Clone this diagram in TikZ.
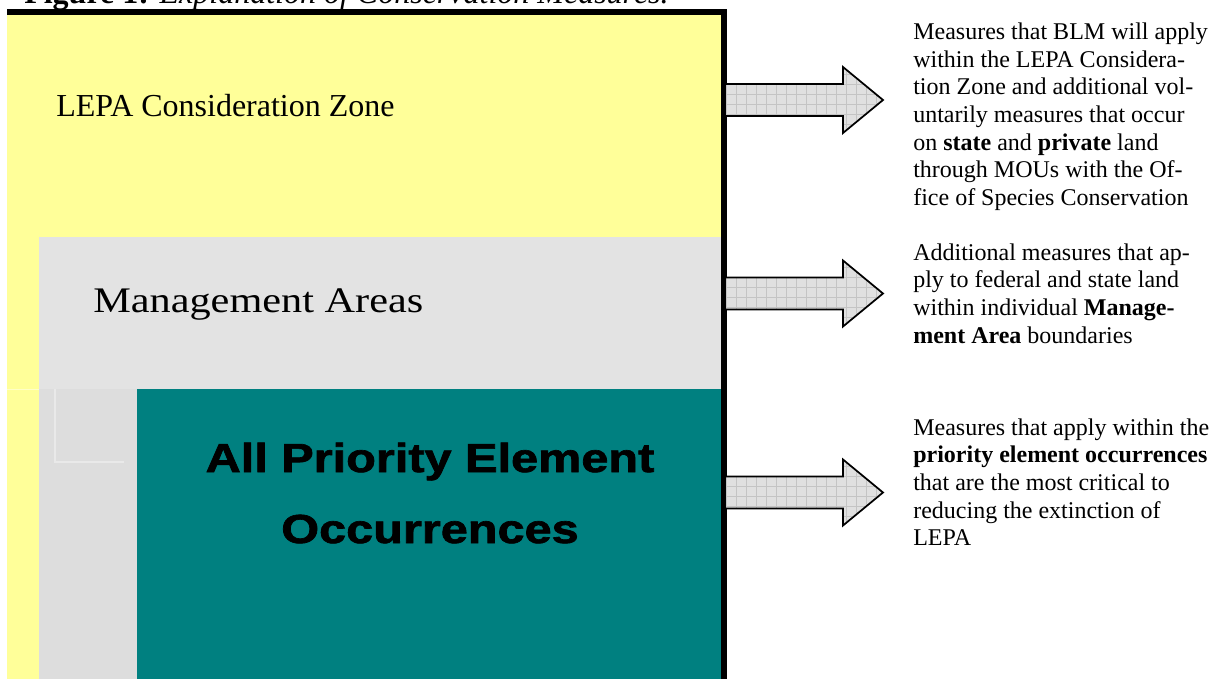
\documentclass[tikz,border=0pt]{standalone}
\usepackage{fontspec}
\setmainfont{Liberation Serif}
\newfontfamily\heavyfont[FakeBold=1.6]{Liberation Sans}
\usepackage{graphicx}
\definecolor{lepayellow}{HTML}{FFFF99}
\definecolor{mgray}{HTML}{E3E3E3}
\definecolor{lgray}{HTML}{DDDDDD}
\definecolor{tealbox}{HTML}{008080}
\definecolor{arrowfill}{HTML}{E0E0E0}
\definecolor{arrowgrid}{HTML}{C4C4C4}
\tikzset{
  sqline/.style={draw=white!35!lgray, line width=0.8pt},
  bigarrow/.style={draw=black, line width=1.3pt, line join=miter},
  sidetext/.style={anchor=base west, inner sep=0pt, font=\fontsize{18}{20.8}\selectfont},
  peotext/.style={anchor=base, inner sep=0pt, font=\heavyfont\bfseries\fontsize{30.4}{36}\selectfont},
}
\newcommand\blockarrow[2]{%
  \begin{scope}
    \clip (726,#1-16) -- (843,#1-16) -- (843,#1-33) -- (883,#1) -- (843,#1+33) -- (843,#1+16) -- (726,#1+16) -- cycle;
    \fill[arrowfill] (720,#1-40) rectangle (890,#1+40);
    \foreach \gx in {726,736,...,886} \draw[arrowgrid, line width=0.35pt] (\gx,#1-40) -- (\gx,#1+40);
    \foreach \gy in {-36,-26,...,40} \draw[arrowgrid, line width=0.35pt] (720,#1+\gy) -- (890,#1+\gy);
  \end{scope}
  \draw[bigarrow] (726,#1-16) -- (843,#1-16) -- (843,#1-33) -- (883,#1) -- (843,#1+33) -- (843,#1+16) -- (726,#1+16);
  \coordinate (#2) at (883,#1);
}
\begin{document}
\begin{tikzpicture}[x=0.75pt,y=-0.75pt]
\useasboundingbox (0,0) rectangle (1217,679);
% caption (cut off at top, as in the reference)
\node[anchor=base west, inner sep=0pt, font=\fontsize{24}{28}\selectfont] (caption) at (24,3) {\textbf{Figure 1:} \textit{Explanation of Conservation Measures.}};
% regions
\fill[lepayellow] (7,14) rectangle (724,679);
\fill[mgray] (39,237) rectangle (724,389);
\fill[lgray] (39,389) rectangle (137,679);
\fill[tealbox] (137,389) rectangle (724,679);
\draw[white!45!lepayellow, line width=0.7pt] (7,389) -- (39,389);
\draw[sqline] (55,389) -- (55,462) -- (124,462);
% frame
\fill[black] (7,9) rectangle (727,15);
\fill[black] (721,9) rectangle (727,679);
% region labels
\node[anchor=base west, inner sep=0pt, font=\fontsize{24}{28}\selectfont] (zone) at (56,116.5) {LEPA Consideration Zone};
\node[anchor=base west, inner sep=0pt, font=\fontsize{27}{32}\selectfont] (mgmt) at (93,312) {\scalebox{1.175}[1]{Management Areas}};
\node[peotext] (peo1) at (430,472) {\scalebox{1.2}[1]{All Priority Element}};
\node[peotext] (peo2) at (430,543) {\scalebox{1.2}[1]{Occurrences}};
% arrows
\blockarrow{100}{a1}
\blockarrow{293.5}{a2}
\blockarrow{492.5}{a3}
% side texts
\node[sidetext] (t1) at (913,39.3) {\vtop{\baselineskip=20.8pt
  \hbox{Measures that BLM will apply}
  \hbox{within the LEPA Considera-}
  \hbox{tion Zone and additional vol-}
  \hbox{untarily measures that occur}
  \hbox{on \textbf{state} and \textbf{private} land}
  \hbox{through MOUs with the Of-}
  \hbox{fice of Species Conservation}}};
\node[sidetext] (t2) at (913,260) {\vtop{\baselineskip=20.8pt
  \hbox{Additional measures that ap-}
  \hbox{ply to federal and state land}
  \hbox{within individual \textbf{Manage-}}
  \hbox{\textbf{ment Area} boundaries}}};
\node[sidetext] (t3) at (913,435) {\vtop{\baselineskip=20.8pt
  \hbox{Measures that apply within the}
  \hbox{\textbf{priority element occurrences}}
  \hbox{that are the most critical to}
  \hbox{reducing the extinction of}
  \hbox{LEPA}}};
\end{tikzpicture}
\end{document}
